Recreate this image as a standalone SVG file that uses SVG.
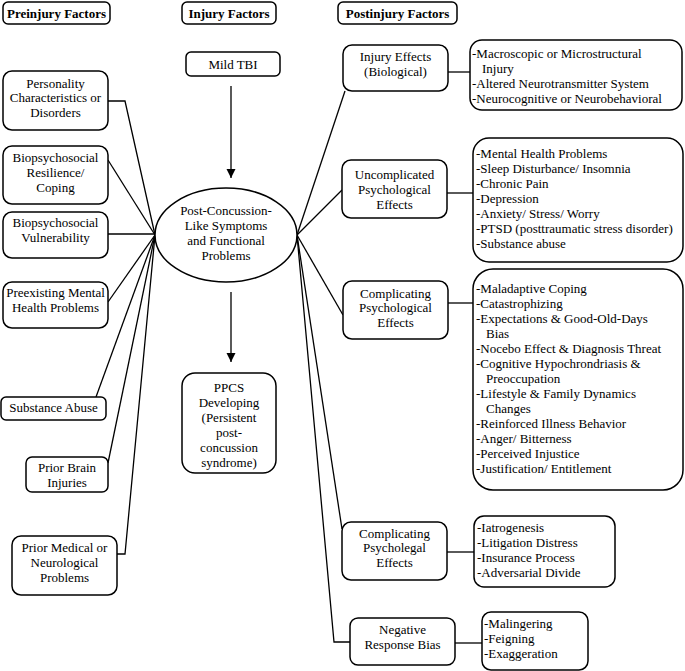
<svg xmlns="http://www.w3.org/2000/svg" width="685" height="671" viewBox="0 0 685 671">
<style>
.b{fill:#fff;stroke:#000;stroke-width:1.5}
.t{font-family:'Liberation Serif',Tinos,'Times New Roman',Times,'DejaVu Serif',serif;font-size:13px;fill:#000}
.c{text-anchor:middle}
.h{font-weight:bold}
.ln{fill:none;stroke:#000;stroke-width:1.3}
</style>
<defs>
<marker id="ah" markerWidth="10" markerHeight="10" refX="9" refY="4.5" orient="auto" markerUnits="userSpaceOnUse">
<path d="M0,0 L9,4.5 L0,9 Z" fill="#000"/>
</marker>
</defs>
<rect width="685" height="671" fill="#fff"/>

<g id="connectors">
<polyline class="ln" points="108,101 125,101 155,235"/>
<line class="ln" x1="108" y1="160" x2="155" y2="235"/>
<line class="ln" x1="108" y1="234" x2="155" y2="234"/>
<line class="ln" x1="108" y1="302" x2="155" y2="235"/>
<line class="ln" x1="96" y1="397" x2="155" y2="235"/>
<line class="ln" x1="108" y1="463" x2="155" y2="235"/>
<polyline class="ln" points="117,554 125,554 155,235"/>
<line class="ln" x1="231" y1="86" x2="231" y2="178" stroke-width="1.5" marker-end="url(#ah)"/>
<line class="ln" x1="231" y1="292" x2="231" y2="362" stroke-width="1.5" marker-end="url(#ah)"/>
<line class="ln" x1="297" y1="235" x2="345" y2="91"/>
<line class="ln" x1="297" y1="235" x2="342" y2="190"/>
<line class="ln" x1="297" y1="235" x2="343" y2="315"/>
<line class="ln" x1="297" y1="235" x2="342" y2="529"/>
<polyline class="ln" points="297,235 334,642 350,642"/>
<line class="ln" x1="448" y1="72" x2="470" y2="72"/>
<line class="ln" x1="447" y1="193" x2="473" y2="193"/>
<line class="ln" x1="448" y1="303" x2="473" y2="303"/>
<line class="ln" x1="447" y1="552" x2="474" y2="552"/>
<line class="ln" x1="455" y1="643" x2="482" y2="643"/>
</g>

<g id="hdr-pre"><rect class="b" x="3" y="2" width="107" height="22" rx="5"/><text class="t c h" x="56.5" y="17.5">Preinjury Factors</text></g>
<g id="hdr-inj"><rect class="b" x="182" y="2" width="94" height="22" rx="5"/><text class="t c h" x="229" y="17.5">Injury Factors</text></g>
<g id="hdr-post"><rect class="b" x="338" y="2" width="119" height="22" rx="5"/><text class="t c h" x="397.5" y="17.5">Postinjury Factors</text></g>

<g id="personality"><rect class="b" x="3" y="71" width="105" height="59" rx="9"/>
<text class="t c" x="55.5" y="87.5">Personality</text><text class="t c" x="55.5" y="102">Characteristics or</text><text class="t c" x="55.5" y="116.5">Disorders</text></g>
<g id="resilience"><rect class="b" x="3" y="146" width="105" height="58" rx="9"/>
<text class="t c" x="55.5" y="161.5">Biopsychosocial</text><text class="t c" x="55.5" y="176.5">Resilience/</text><text class="t c" x="55.5" y="191.5">Coping</text></g>
<g id="vulnerability"><rect class="b" x="3" y="212" width="105" height="46" rx="9"/>
<text class="t c" x="55.5" y="226.5">Biopsychosocial</text><text class="t c" x="55.5" y="241.5">Vulnerability</text></g>
<g id="preexisting"><rect class="b" x="3" y="282" width="105" height="46" rx="9"/>
<text class="t c" x="55.5" y="296.5">Preexisting Mental</text><text class="t c" x="55.5" y="311.5">Health Problems</text></g>
<g id="substance"><rect class="b" x="1" y="397" width="105" height="23" rx="5"/>
<text class="t c" x="53.5" y="411.5">Substance Abuse</text></g>
<g id="brain"><rect class="b" x="26" y="457" width="82" height="35" rx="6"/>
<text class="t c" x="67" y="471.5">Prior Brain</text><text class="t c" x="67" y="486.5">Injuries</text></g>
<g id="medical"><rect class="b" x="12" y="536" width="105" height="59" rx="9"/>
<text class="t c" x="64.5" y="551.5">Prior Medical or</text><text class="t c" x="64.5" y="566.5">Neurological</text><text class="t c" x="64.5" y="581.5">Problems</text></g>

<g id="mildtbi"><rect class="b" x="186" y="52" width="94" height="24" rx="5"/>
<text class="t c" x="233" y="68.5">Mild TBI</text></g>
<g id="pcs"><ellipse class="b" cx="226" cy="235" rx="71" ry="47"/>
<text class="t c" x="226" y="214.5">Post-Concussion-</text><text class="t c" x="226" y="229.5">Like Symptoms</text><text class="t c" x="226" y="244.5">and Functional</text><text class="t c" x="226" y="259.5">Problems</text></g>
<g id="ppcs"><rect class="b" x="182" y="373" width="94" height="100" rx="13"/>
<text class="t c" x="229" y="391.5">PPCS</text><text class="t c" x="229" y="406.5">Developing</text><text class="t c" x="229" y="421.5">(Persistent</text><text class="t c" x="229" y="436.5">post-</text><text class="t c" x="229" y="451.5">concussion</text><text class="t c" x="229" y="466.5">syndrome)</text></g>

<g id="injeff"><rect class="b" x="343" y="45" width="105" height="46" rx="9"/>
<text class="t c" x="395.5" y="60.5">Injury Effects</text><text class="t c" x="395.5" y="75.5">(Biological)</text></g>
<g id="injeff-d"><rect class="b" x="470" y="40" width="212" height="70" rx="12"/>
<text class="t" x="472" y="57.5">-Macroscopic or Microstructural</text><text class="t" x="482" y="72.5">Injury</text><text class="t" x="472" y="87.5">-Altered Neurotransmitter System</text><text class="t" x="472" y="102.5">-Neurocognitive or Neurobehavioral</text></g>

<g id="uncomp"><rect class="b" x="342" y="160" width="105" height="58" rx="9"/>
<text class="t c" x="394.5" y="178.5">Uncomplicated</text><text class="t c" x="394.5" y="193.5">Psychological</text><text class="t c" x="394.5" y="208.5">Effects</text></g>
<g id="uncomp-d"><rect class="b" x="473" y="138" width="210" height="124" rx="16"/>
<text class="t" x="476" y="157.5">-Mental Health Problems</text><text class="t" x="476" y="172.5">-Sleep Disturbance/ Insomnia</text><text class="t" x="476" y="187.5">-Chronic Pain</text><text class="t" x="476" y="202.5">-Depression</text><text class="t" x="476" y="217.5">-Anxiety/ Stress/ Worry</text><text class="t" x="476" y="232.5">-PTSD (posttraumatic stress disorder)</text><text class="t" x="476" y="247.5">-Substance abuse</text></g>

<g id="comppsy"><rect class="b" x="343" y="281" width="105" height="58" rx="9"/>
<text class="t c" x="395.5" y="297.5">Complicating</text><text class="t c" x="395.5" y="311.5">Psychological</text><text class="t c" x="395.5" y="326.5">Effects</text></g>
<g id="comppsy-d"><rect class="b" x="473" y="269" width="210" height="221" rx="20"/>
<text class="t" x="476" y="292.5">-Maladaptive Coping</text><text class="t" x="476" y="307.5">-Catastrophizing</text><text class="t" x="476" y="322.5">-Expectations &amp; Good-Old-Days</text><text class="t" x="486" y="337.5">Bias</text><text class="t" x="476" y="352.5">-Nocebo Effect &amp; Diagnosis Threat</text><text class="t" x="476" y="367.5">-Cognitive Hypochrondriasis &amp;</text><text class="t" x="486" y="382.5">Preoccupation</text><text class="t" x="476" y="397.5">-Lifestyle &amp; Family Dynamics</text><text class="t" x="486" y="412.5">Changes</text><text class="t" x="476" y="427.5">-Reinforced Illness Behavior</text><text class="t" x="476" y="442.5">-Anger/ Bitterness</text><text class="t" x="476" y="457.5">-Perceived Injustice</text><text class="t" x="476" y="472.5">-Justification/ Entitlement</text></g>

<g id="psylegal"><rect class="b" x="342" y="522" width="105" height="58" rx="9"/>
<text class="t c" x="394.5" y="537.5">Complicating</text><text class="t c" x="394.5" y="551.5">Psycholegal</text><text class="t c" x="394.5" y="566.5">Effects</text></g>
<g id="psylegal-d"><rect class="b" x="474" y="516" width="141" height="71" rx="10"/>
<text class="t" x="477" y="531.5">-Iatrogenesis</text><text class="t" x="477" y="546.5">-Litigation Distress</text><text class="t" x="477" y="561.5">-Insurance Process</text><text class="t" x="477" y="576.5">-Adversarial Divide</text></g>

<g id="negbias"><rect class="b" x="350" y="618" width="105" height="47" rx="8"/>
<text class="t c" x="402.5" y="633.5">Negative</text><text class="t c" x="402.5" y="648.5">Response Bias</text></g>
<g id="negbias-d"><rect class="b" x="482" y="612" width="106" height="58" rx="9"/>
<text class="t" x="484" y="627.5">-Malingering</text><text class="t" x="484" y="642.5">-Feigning</text><text class="t" x="484" y="657.5">-Exaggeration</text></g>
</svg>
